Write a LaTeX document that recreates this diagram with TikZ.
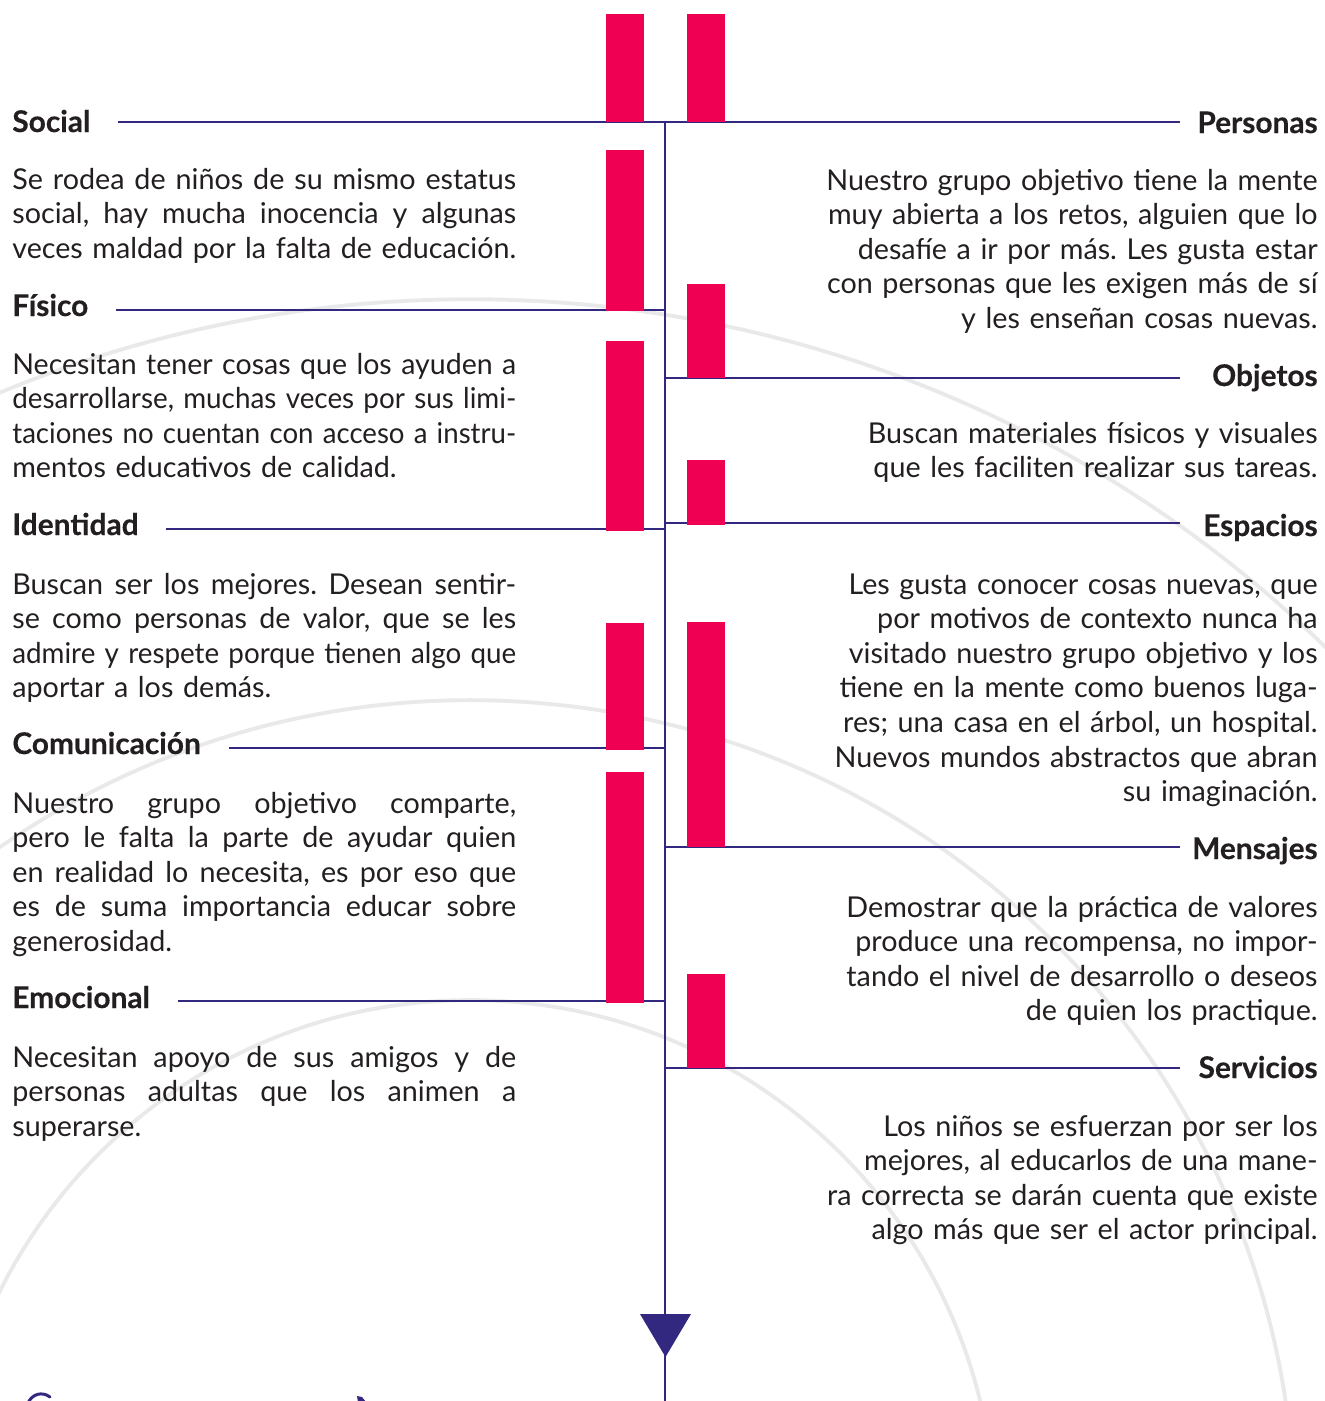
\documentclass[tikz,border=0pt]{standalone}
\usepackage{fontspec}
\usepackage{graphicx}
\setmainfont{Lato}[BoldFeatures={FakeBold=0.4}]
\usepackage{tikz}
\usetikzlibrary{calc}

\definecolor{ink}{RGB}{50,40,128}
\definecolor{rosa}{RGB}{240,0,82}
\definecolor{texto}{RGB}{35,31,32}
\definecolor{gris}{RGB}{233,233,233}

% una linea justificada de ancho fijo
\newsavebox\lbox
\newcommand\jline[1]{\leavevmode\sbox\lbox{#1}\ifdim\wd\lbox>10.08cm\resizebox{10.08cm}{\height}{#1}\else\hbox to 10.08cm{\spaceskip=0.25em plus 1fil\relax#1}\fi}

\tikzset{
  titulo/.style={font=\fontsize{17}{19.7}\selectfont\bfseries, text=texto, inner sep=0pt},
  parrafo/.style={font=\fontsize{16.35}{19.7}\selectfont\frenchspacing, text=texto, inner sep=0pt, text width=10.08cm},
  enlace/.style={draw=ink, line width=1.3pt},
  eje/.style={draw=ink, line width=1.2pt},
  arcogris/.style={draw=gris, line width=2.2pt}
}

\begin{document}
\begin{tikzpicture}[x=0.02cm, y=-0.02cm]
		%%%%% START %%%%%
		\useasboundingbox (0,0) rectangle (1325,1401);
		\clip (0,0) rectangle (1325,1401);
		
		\draw[arcogris] (470,1525) circle (10.5cm);
		\draw[arcogris] (470,1525) circle (16.5cm);
		\draw[arcogris] (470,1525) circle (24.52cm);
		
		\coordinate (spine) at (665,122);
		\coordinate (fin) at (1180,122);
		\coordinate (base) at (665,1401);
		\draw[eje] (spine) -- (base);
		\fill[ink] (640,1314) -- (691,1314) -- (665.5,1357) -- cycle;
		
		\coordinate (y-social) at (0,122);
		\coordinate (y-fisico) at (0,310);
		\coordinate (y-identidad) at (0,529);
		\coordinate (y-comunicacion) at (0,748);
		\coordinate (y-emocional) at (0,1001);
		\coordinate (y-personas) at (0,122);
		\coordinate (y-objetos) at (0,378);
		\coordinate (y-espacios) at (0,523);
		\coordinate (y-mensajes) at (0,847);
		\coordinate (y-servicios) at (0,1068);
		
		\node[titulo, anchor=base west] (social) at (12,132) {Social};
		\node[titulo, anchor=base west] (fisico) at (12,316) {Físico};
		\node[titulo, anchor=base west] (identidad) at (12,535) {Identidad};
		\node[titulo, anchor=base west] (comunicacion) at (12,754) {Comunicación};
		\node[titulo, anchor=base west] (emocional) at (12,1008) {Emocional};
		
		\node[titulo, anchor=base east] (personas) at (1318,133) {Personas};
		\node[titulo, anchor=base east] (objetos) at (1318,386) {Objetos};
		\node[titulo, anchor=base east] (espacios) at (1318,536) {Espacios};
		\node[titulo, anchor=base east] (mensajes) at (1318,859) {Mensajes};
		\node[titulo, anchor=base east] (servicios) at (1318,1078) {Servicios};
		
		\draw[enlace] ([xshift=0.55cm]social.east |- y-social) -- (spine |- y-social);
		\draw[enlace] ([xshift=0.55cm]fisico.east |- y-fisico) -- (spine |- y-fisico);
		\draw[enlace] ([xshift=0.55cm]identidad.east |- y-identidad) -- (spine |- y-identidad);
		\draw[enlace] ([xshift=0.55cm]comunicacion.east |- y-comunicacion) -- (spine |- y-comunicacion);
		\draw[enlace] ([xshift=0.55cm]emocional.east |- y-emocional) -- (spine |- y-emocional);
		
		\draw[enlace] (spine |- y-personas) -- (fin |- y-personas);
		\draw[enlace] (spine |- y-objetos) -- (fin |- y-objetos);
		\draw[enlace] (spine |- y-espacios) -- (fin |- y-espacios);
		\draw[enlace] (spine |- y-mensajes) -- (fin |- y-mensajes);
		\draw[enlace] (spine |- y-servicios) -- (fin |- y-servicios);
		
		\fill[rosa] (606,14) rectangle (644,122);
		\fill[rosa] (606,150) rectangle (644,311);
		\fill[rosa] (606,341) rectangle (644,531);
		\fill[rosa] (606,623) rectangle (644,750);
		\fill[rosa] (606,772) rectangle (644,1003);
		
		\fill[rosa] (687,14) rectangle (725,122);
		\fill[rosa] (687,284) rectangle (725,378);
		\fill[rosa] (687,460) rectangle (725,525);
		\fill[rosa] (687,622) rectangle (725,847);
		\fill[rosa] (687,974) rectangle (725,1068);
		
		\node[parrafo, anchor=base west] (t-social) at (12,189) {\jline{Se rodea de niños de su mismo estatus}\\\jline{social, hay mucha inocencia y algunas}\\\jline{veces maldad por la falta de educación.}};
		\node[parrafo, anchor=base west] (t-fisico) at (12,374) {\jline{Necesitan tener cosas que los ayuden a}\\\jline{desarrollarse, muchas veces por sus limi-}\\\jline{taciones no cuentan con acceso a instru-}\\mentos educativos de calidad.};
		\node[parrafo, anchor=base west] (t-identidad) at (12,594) {\jline{Buscan ser los mejores. Desean sentir-}\\\jline{se como personas de valor, que se les}\\\jline{admire y respete porque tienen algo que}\\aportar a los demás.};
		\node[parrafo, anchor=base west] (t-comunicacion) at (12,813) {\jline{Nuestro grupo objetivo comparte,}\\\jline{pero le falta la parte de ayudar quien}\\\jline{en realidad lo necesita, es por eso que}\\\jline{es de suma importancia educar sobre}\\generosidad.};
		\node[parrafo, anchor=base west] (t-emocional) at (12,1067) {\jline{Necesitan apoyo de sus amigos y de}\\\jline{personas adultas que los animen a}\\superarse.};
		
		\node[parrafo, align=right, anchor=base east] (t-personas) at (1318,190) {Nuestro grupo objetivo tiene la mente\\muy abierta a los retos, alguien que lo\\desafíe a ir por más. Les gusta estar\\con personas que les exigen más de sí\\y les enseñan cosas nuevas.};
		\node[parrafo, align=right, anchor=base east] (t-objetos) at (1318,443) {Buscan materiales físicos y visuales\\que les faciliten realizar sus tareas.};
		\node[parrafo, align=right, anchor=base east] (t-espacios) at (1318,594) {Les gusta conocer cosas nuevas, que\\por motivos de contexto nunca ha\\visitado nuestro grupo objetivo y los\\tiene en la mente como buenos luga-\\res; una casa en el árbol, un hospital.\\Nuevos mundos abstractos que abran\\su imaginación.};
		\node[parrafo, align=right, anchor=base east] (t-mensajes) at (1318,917) {Demostrar que la práctica de valores\\produce una recompensa, no impor-\\tando el nivel de desarrollo o deseos\\de quien los practique.};
		\node[parrafo, align=right, anchor=base east] (t-servicios) at (1318,1136) {Los niños se esfuerzan por ser los\\mejores, al educarlos de una mane-\\ra correcta se darán cuenta que existe\\algo más que ser el actor principal.};
		
		\draw[ink, line width=1.7pt, line cap=round] (28,1403) .. controls (32,1394) and (42,1391) .. (50,1397);
		\fill[ink] (357,1396) -- (362,1397) -- (366,1402) -- (358,1402) -- cycle;
		
		%%%%% END %%%%%
\end{tikzpicture}
\end{document}
